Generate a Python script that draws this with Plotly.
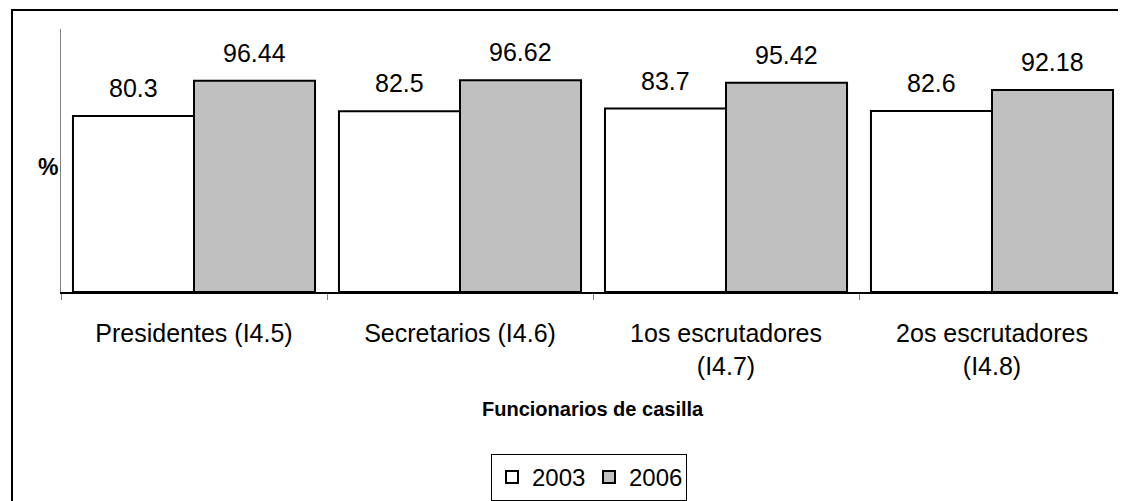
import plotly.graph_objects as go

categories = ["Presidentes (I4.5)", "Secretarios (I4.6)", "1os escrutadores<br>(I4.7)", "2os escrutadores<br>(I4.8)"]
values_2003 = [80.3, 82.5, 83.7, 82.6]
values_2006 = [96.44, 96.62, 95.42, 92.18]
series_names = ["2003", "2006"]

FONT = "Arial, Liberation Sans, sans-serif"
BODY = 8                      # default page margin of the browser
PAGE_W, PAGE_H = 1126, 501
PLOT_L, PLOT_R, PLOT_T, PLOT_B = 61, 1125, 29, 293   # plot area in page pixels
W, H = PAGE_W - BODY, PAGE_H - BODY
ML, MT = PLOT_L - BODY, PLOT_T - BODY
MR = W - ML - (PLOT_R - PLOT_L)
MB = H - MT - (PLOT_B - PLOT_T)
PW = PLOT_R - PLOT_L
PH = PLOT_B - PLOT_T
BARGAP = 0.09
YMAX = 120


def py(page_y):
    return (PLOT_B - page_y) / PH


def px(page_x):
    return (page_x - PLOT_L) / PW


fig = go.Figure()
fig.add_trace(go.Bar(name=series_names[0], x=categories, y=values_2003,
                     marker=dict(color="#FFFFFF", line=dict(color="#000000", width=2))))
fig.add_trace(go.Bar(name=series_names[1], x=categories, y=values_2006,
                     marker=dict(color="#C0C0C0", line=dict(color="#000000", width=2))))

# value labels above bars
bar_w = PW / len(categories) * (1 - BARGAP) / 2
annotations = []
for vals, sign in ((values_2003, -1), (values_2006, 1)):
    for c, v in zip(categories, vals):
        annotations.append(dict(x=c, y=v, xref="x", yref="y", text=f"{v:g}",
                                showarrow=False, yanchor="bottom", xanchor="center",
                                xshift=sign * bar_w / 2, yshift=12,
                                font=dict(family=FONT, size=25, color="#000000")))

# y-axis title "%"
annotations.append(dict(x=px(60), y=py(168), xref="paper", yref="paper", text="<b>%</b>",
                        showarrow=False, xanchor="right", yanchor="middle",
                        font=dict(family=FONT, size=23, color="#000000")))
# x-axis title
annotations.append(dict(x=0.5, y=py(410), xref="paper", yref="paper",
                        text="<b>Funcionarios de casilla</b>",
                        showarrow=False, xanchor="center", yanchor="middle",
                        font=dict(family=FONT, size=20, color="#000000")))

fig.update_layout(
    width=W, height=H,
    margin=dict(l=ML, r=MR, t=MT, b=MB, pad=0),
    paper_bgcolor="#FFFFFF", plot_bgcolor="#FFFFFF",
    barmode="group", bargap=BARGAP, bargroupgap=0,
    font=dict(family=FONT, size=25, color="#000000"),
    showlegend=True,
    legend=dict(orientation="h", x=px(589), xanchor="center",
                y=py(455), yanchor="top",
                bordercolor="#000000", borderwidth=1, bgcolor="#FFFFFF",
                font=dict(family=FONT, size=24, color="#000000"),
                itemwidth=30, entrywidth=52, tracegroupgap=0),
    annotations=annotations,
    shapes=[dict(type="rect", xref="paper", yref="paper",
                 x0=px(12), x1=px(1140), y0=py(520), y1=py(10),
                 line=dict(color="#000000", width=2), fillcolor="rgba(0,0,0,0)", layer="below")],
)
fig.update_xaxes(type="category", showline=True, linecolor="#000000", linewidth=2,
                 ticks="outside", tickson="boundaries", ticklen=6, tickcolor="#808080", tickwidth=1,
                 ticklabelstandoff=18, showgrid=False, zeroline=False,
                 tickfont=dict(family=FONT, size=25, color="#000000"))
fig.update_yaxes(range=[0, YMAX], showline=True, linecolor="#808080", linewidth=1,
                 showticklabels=False, ticks="", showgrid=False, zeroline=False)

fig.write_html("out.html")
